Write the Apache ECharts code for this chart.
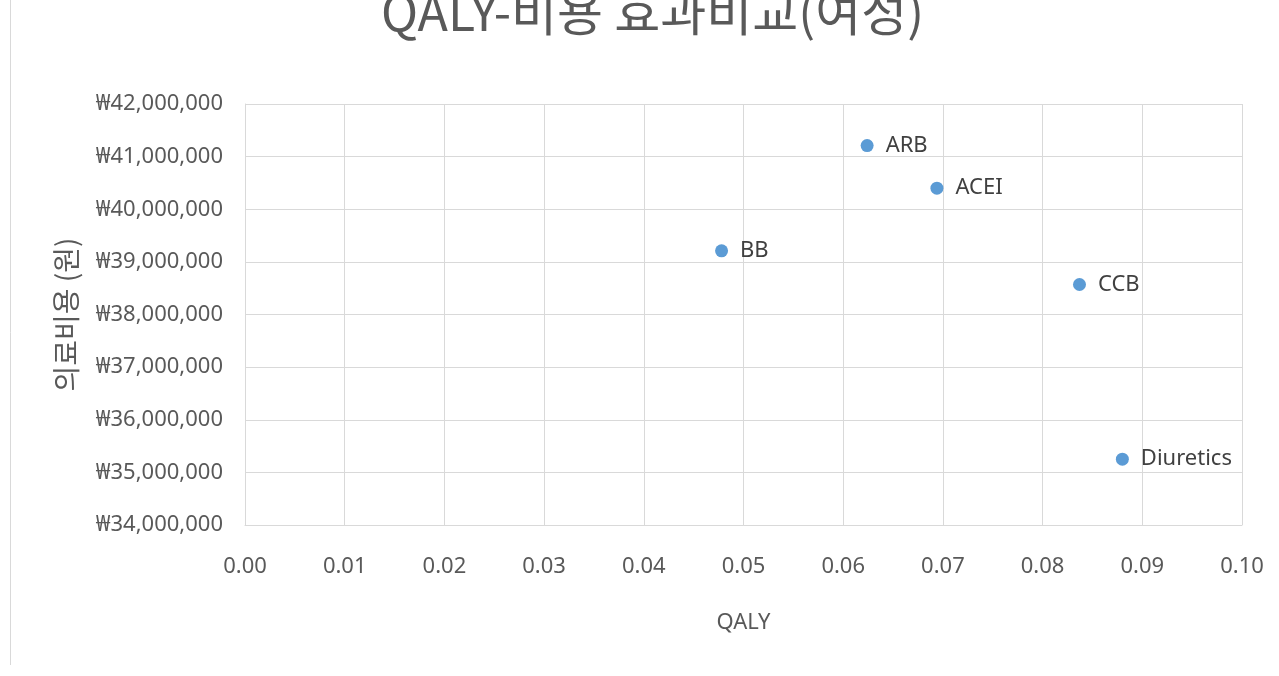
<!DOCTYPE html>
<html>
<head>
<meta charset="utf-8">
<script src="https://cdn.jsdelivr.net/npm/echarts@6/dist/echarts.min.js"></script>
<style>
  html, body { margin: 0; padding: 0; background: #fff; }
  #chart { width: 1279px; height: 676px; }
</style>
</head>
<body>
<div id="chart"></div>
<script>
// Treatment groups and their QALY / cost pairs
const drugNames = ['ARB', 'ACEI', 'BB', 'CCB', 'Diuretics'];
const qalyValues = [0.0624, 0.0694, 0.0478, 0.0837, 0.0880];
const costValues = [41210000, 40400000, 39210000, 38570000, 35250000];

const chartTitle = 'QALY-비용 효과비교(여성)';
const xAxisTitle = 'QALY';
const yAxisTitle = '의료비용 (원)';

const labelFont = '"Noto Sans", "Noto Sans CJK KR", sans-serif';
const cjkFont = '"Noto Sans CJK KR", "Noto Sans", sans-serif';

const points = drugNames.map((name, i) => ({ name, value: [qalyValues[i], costValues[i]] }));

const chart = echarts.init(document.getElementById('chart'));
chart.setOption({
  backgroundColor: '#ffffff',
  animation: false,
  title: {
    text: chartTitle,
    left: 376,
    top: -18,
    textStyle: { fontFamily: cjkFont, fontSize: 50, fontWeight: 'normal', color: '#595959' }
  },
  graphic: [{
    type: 'line',
    shape: { x1: 10.5, y1: 0, x2: 10.5, y2: 665 },
    style: { stroke: '#d9d9d9', lineWidth: 1 }
  }],
  grid: { left: 245, right: 37, top: 104, bottom: 151 },
  xAxis: {
    type: 'value',
    min: 0, max: 0.1, interval: 0.01,
    name: xAxisTitle,
    nameLocation: 'middle',
    nameGap: 87,
    nameTextStyle: { fontFamily: labelFont, fontSize: 22, color: '#595959' },
    axisLine: { show: true, lineStyle: { color: '#d9d9d9' } },
    axisTick: { show: false },
    axisLabel: {
      margin: 31,
      fontFamily: labelFont, fontSize: 22, color: '#595959',
      formatter: v => v.toFixed(2)
    },
    splitLine: { show: true, lineStyle: { color: '#d9d9d9' } }
  },
  yAxis: {
    type: 'value',
    min: 34000000, max: 42000000, interval: 1000000,
    name: yAxisTitle,
    nameLocation: 'middle',
    nameGap: 165,
    nameRotate: 90,
    nameTextStyle: { fontFamily: cjkFont, fontSize: 28, color: '#595959' },
    axisLine: { show: true, lineStyle: { color: '#d9d9d9' } },
    axisTick: { show: false },
    axisLabel: {
      margin: 22,
      fontFamily: labelFont, fontSize: 22, color: '#595959',
      formatter: v => '₩' + v.toLocaleString('en-US')
    },
    splitLine: { show: true, lineStyle: { color: '#d9d9d9' } }
  },
  series: [{
    type: 'scatter',
    data: points,
    symbol: 'circle',
    symbolSize: 13,
    itemStyle: { color: '#5b9bd5', opacity: 1 },
    label: {
      show: true,
      position: 'right',
      distance: 12,
      formatter: p => p.name,
      fontFamily: labelFont, fontSize: 22, color: '#404040'
    }
  }]
});
</script>
</body>
</html>
